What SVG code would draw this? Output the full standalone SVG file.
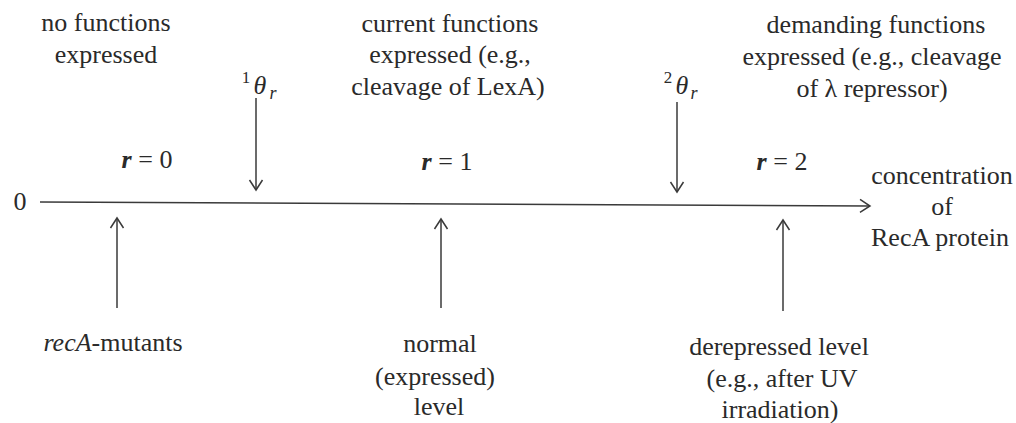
<svg xmlns="http://www.w3.org/2000/svg" width="1016" height="423" viewBox="0 0 1016 423">
<style>
text{font-family:Liberation Serif;font-size:26px;fill:#2a2a2a;text-anchor:middle}
.ln{stroke:#3a3a3a;stroke-width:1.5;fill:none}
.it{font-style:italic}
.b{font-weight:bold;font-style:italic}
.sup{font-size:17px}
.sub{font-size:18px;font-style:italic}
</style>
<defs>
<marker id="ah" markerWidth="14" markerHeight="16" refX="12" refY="8" orient="auto" markerUnits="userSpaceOnUse">
<path d="M2,1.5 L12,8 L2,14.5" fill="none" stroke="#3a3a3a" stroke-width="1.5"/>
</marker>
</defs>
<rect width="1016" height="423" fill="#fff"/>
<g id="connectors">
<line class="ln" x1="40" y1="202" x2="870" y2="206" marker-end="url(#ah)"/>
<line class="ln" x1="256" y1="98" x2="256" y2="190" marker-end="url(#ah)"/>
<line class="ln" x1="677" y1="102" x2="677" y2="192" marker-end="url(#ah)"/>
<line class="ln" x1="117" y1="308" x2="117" y2="218" marker-end="url(#ah)"/>
<line class="ln" x1="441" y1="308" x2="441" y2="219" marker-end="url(#ah)"/>
<line class="ln" x1="783" y1="311" x2="783" y2="220" marker-end="url(#ah)"/>
</g>
<g id="origin" font-family="Liberation Serif"><text x="20" y="210">0</text></g>
<g id="no-functions" font-family="Liberation Serif">
<text x="106" y="31">no functions</text>
<text x="106" y="63">expressed</text>
</g>
<g id="current-functions" font-family="Liberation Serif">
<text x="450" y="32">current functions</text>
<text x="450" y="63">expressed (e.g.,</text>
<text x="448" y="95">cleavage of LexA)</text>
</g>
<g id="demanding-functions" font-family="Liberation Serif">
<text x="876" y="33">demanding functions</text>
<text x="872" y="65">expressed (e.g., cleavage</text>
<text x="872" y="97">of λ repressor)</text>
</g>
<g id="theta1" font-family="Liberation Serif">
<text x="246" y="83" class="sup">1</text>
<text x="260" y="94" class="it" font-size="28">θ</text>
<text x="273" y="99" class="sub">r</text>
</g>
<g id="theta2" font-family="Liberation Serif">
<text x="668" y="83" class="sup">2</text>
<text x="682" y="94" class="it" font-size="28">θ</text>
<text x="694" y="99" class="sub">r</text>
</g>
<g id="r0" font-family="Liberation Serif"><text x="147" y="168"><tspan class="b">r</tspan> = 0</text></g>
<g id="r1" font-family="Liberation Serif"><text x="447" y="170"><tspan class="b">r</tspan> = 1</text></g>
<g id="r2" font-family="Liberation Serif"><text x="782" y="170"><tspan class="b">r</tspan> = 2</text></g>
<g id="axis-label" font-family="Liberation Serif">
<text x="942" y="184">concentration</text>
<text x="942" y="215">of</text>
<text x="940" y="246">RecA protein</text>
</g>
<g id="recA-mutants" font-family="Liberation Serif"><text x="113" y="351"><tspan class="it">recA</tspan>-mutants</text></g>
<g id="normal-level" font-family="Liberation Serif">
<text x="440" y="352">normal</text>
<text x="435" y="385">(expressed)</text>
<text x="439" y="415">level</text>
</g>
<g id="derepressed-level" font-family="Liberation Serif">
<text x="779" y="355">derepressed level</text>
<text x="782" y="387">(e.g., after UV</text>
<text x="780" y="418">irradiation)</text>
</g>
</svg>
